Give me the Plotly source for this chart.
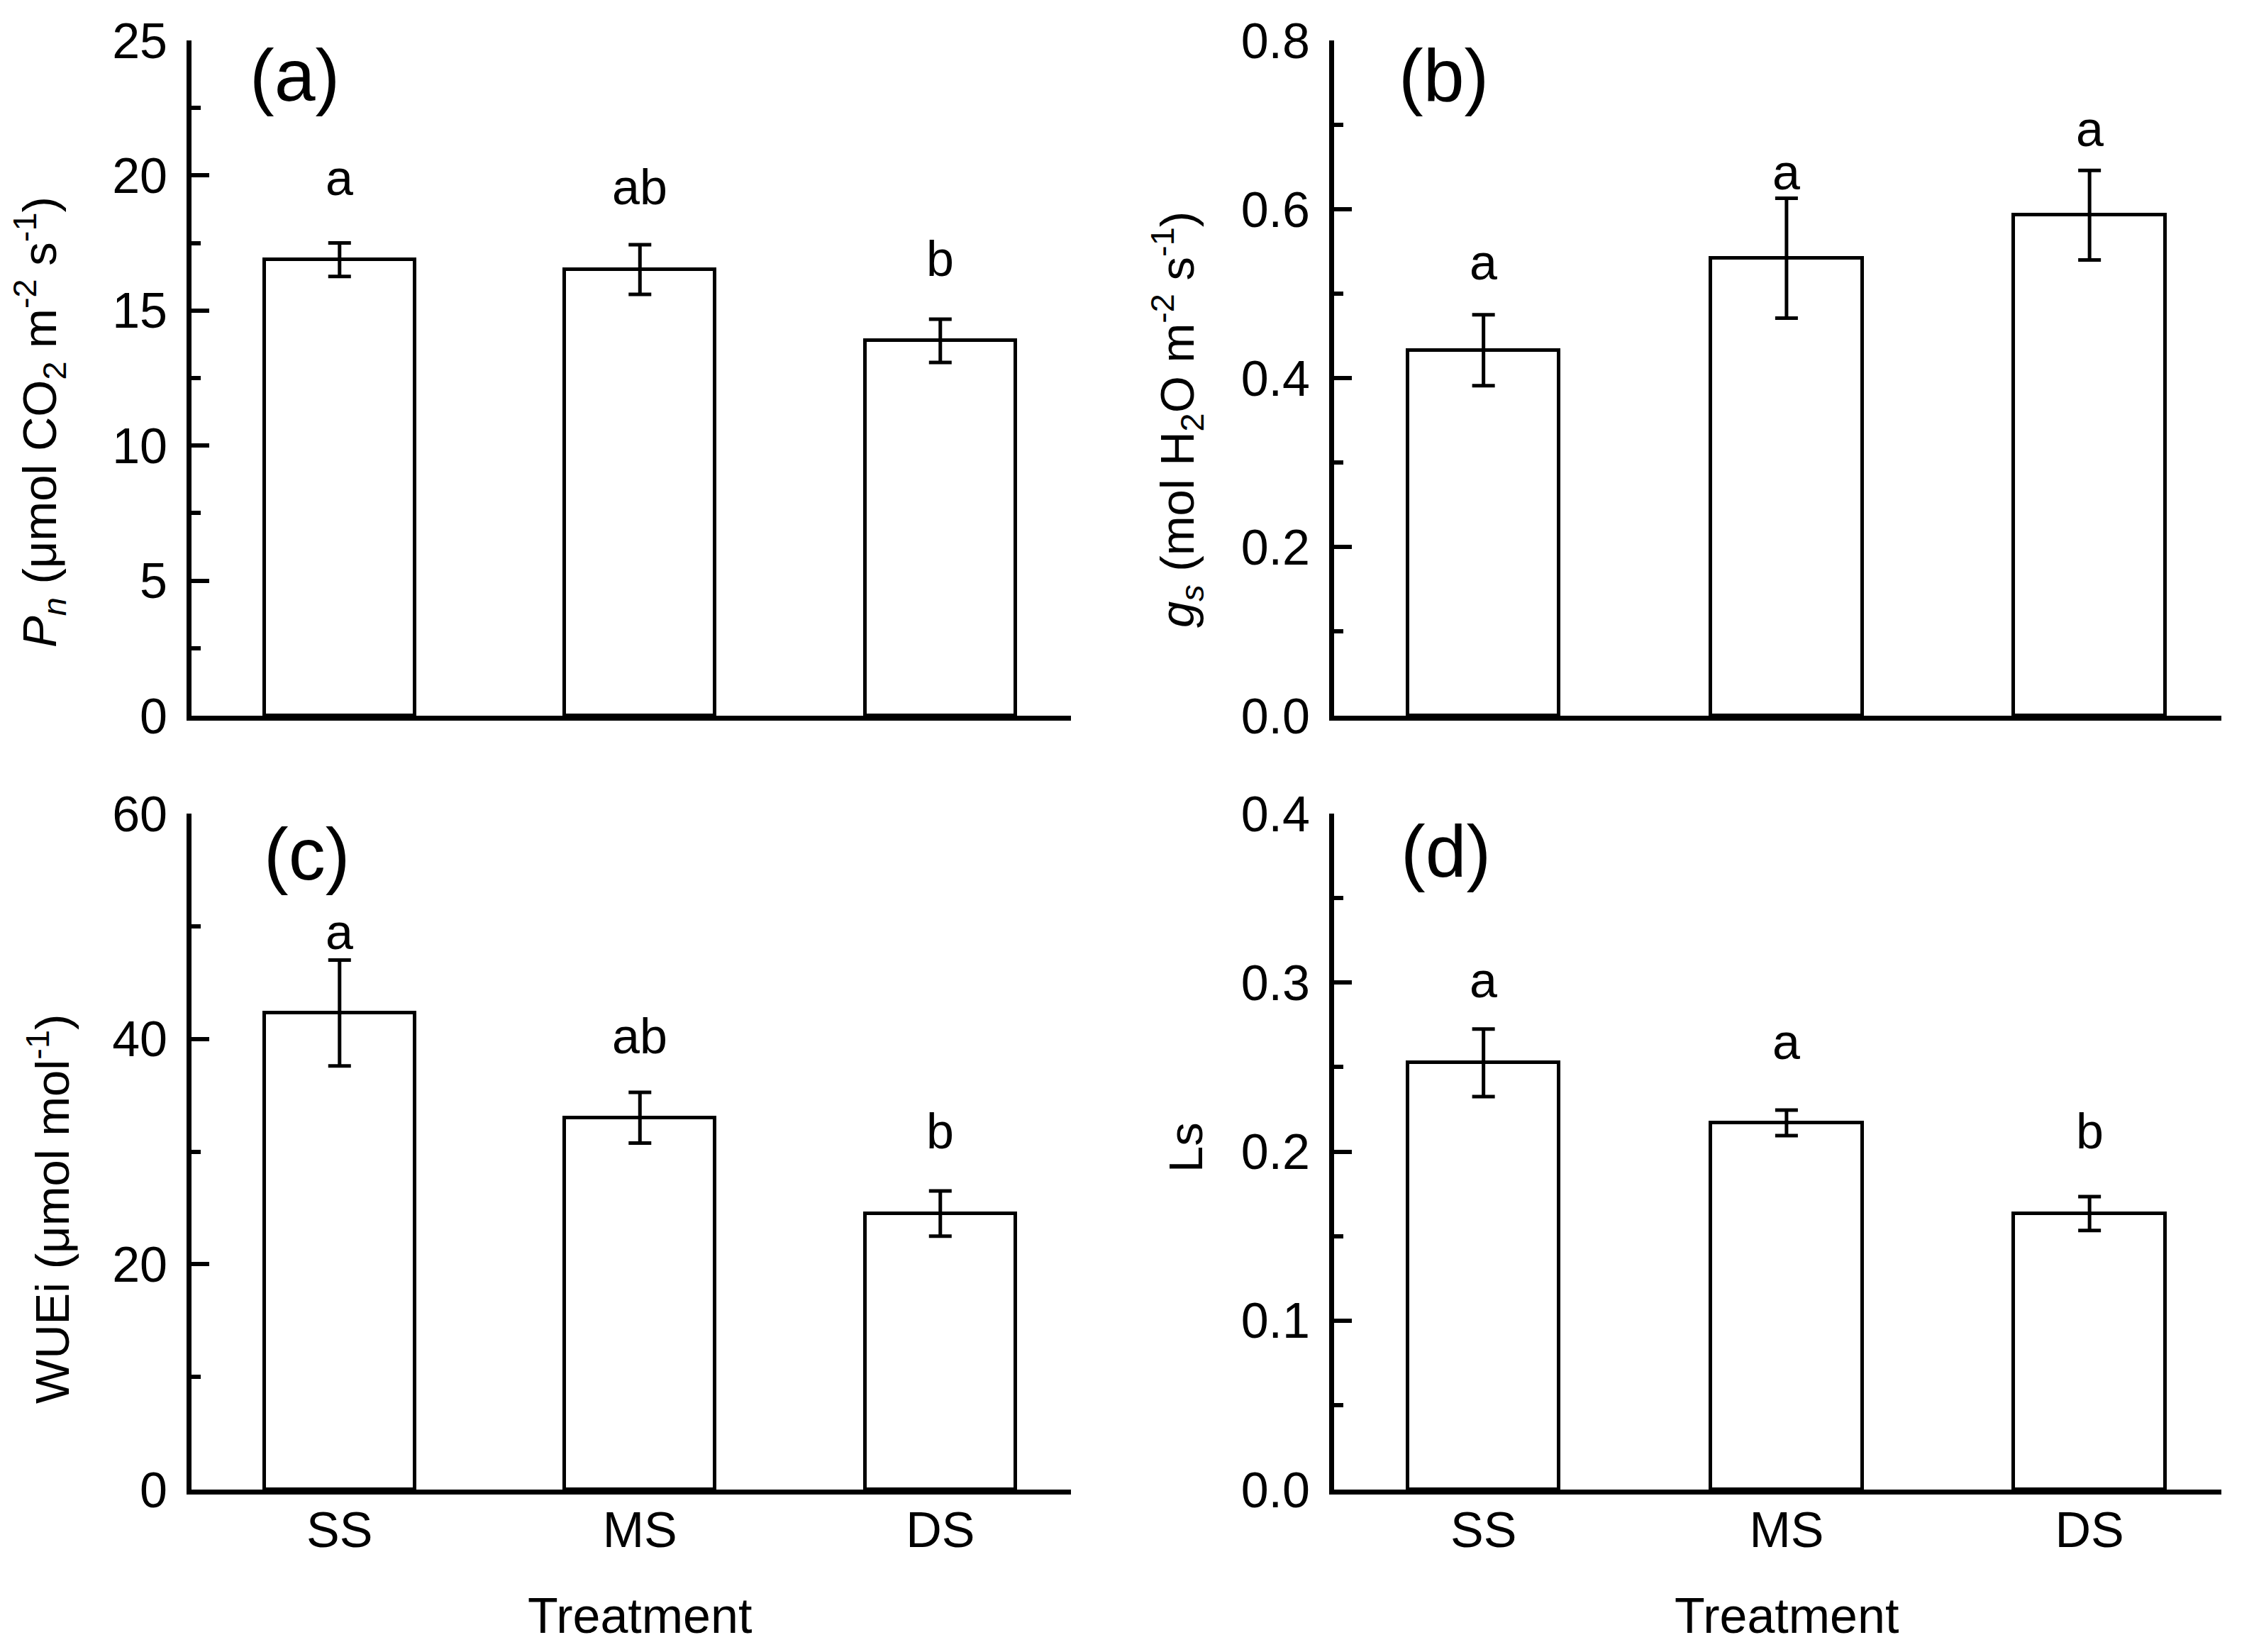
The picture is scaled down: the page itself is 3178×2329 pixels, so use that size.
import plotly.graph_objects as go

categories = ["SS", "MS", "DS"]

pn_mean = [16.88, 16.52, 13.88]
pn_err = [0.62, 0.92, 0.80]
pn_letters = ["a", "ab", "b"]
pn_letter_y = [19.7, 19.35, 16.7]

gs_mean = [0.433, 0.542, 0.593]
gs_err = [0.042, 0.071, 0.053]
gs_letters = ["a", "a", "a"]
gs_letter_y = [0.530, 0.637, 0.688]

wue_mean = [42.3, 33.0, 24.5]
wue_err = [4.7, 2.25, 2.0]
wue_letters = ["a", "ab", "b"]
wue_letter_y = [49.0, 39.7, 31.3]

ls_mean = [0.2525, 0.217, 0.1633]
ls_err = [0.020, 0.0076, 0.010]
ls_letters = ["a", "a", "b"]
ls_letter_y = [0.298, 0.2617, 0.2087]

panel_labels = ["(a)", "(b)", "(c)", "(d)"]
y_titles = [
    "<i>P</i><sub><i>n</i></sub> (μmol CO<sub>2</sub> m<sup>-2</sup> s<sup>-1</sup>)",
    "<i>g</i><sub><i>s</i></sub> (mol H<sub>2</sub>O m<sup>-2</sup> s<sup>-1</sup>)",
    "WUEi (μmol mol<sup>-1</sup>)",
    "Ls",
]
x_title = "Treatment"

W, H = 3178, 2329
OFF = 8  # page body margin
FONT = "Liberation Sans"
FS = 70


def px(sx):
    return (sx - OFF) / W


def py(sy):
    return 1 - (sy - OFF) / H


xdom = [[px(270), px(1510)], [px(1881), px(3132)]]
ydom = [[py(1009), py(57)], [py(2100), py(1147)]]

panels = [
    dict(mean=pn_mean, err=pn_err, letters=pn_letters, ly=pn_letter_y,
         rng=[0, 25], dtick=5, minor=2.5, fmt="d", col=0, row=0),
    dict(mean=gs_mean, err=gs_err, letters=gs_letters, ly=gs_letter_y,
         rng=[0, 0.8], dtick=0.2, minor=0.1, fmt=".1f", col=1, row=0),
    dict(mean=wue_mean, err=wue_err, letters=wue_letters, ly=wue_letter_y,
         rng=[0, 60], dtick=20, minor=10, fmt="d", col=0, row=1),
    dict(mean=ls_mean, err=ls_err, letters=ls_letters, ly=ls_letter_y,
         rng=[0, 0.4], dtick=0.1, minor=0.05, fmt=".1f", col=1, row=1),
]

fig = go.Figure()
xidx = list(range(len(categories)))
annotations = []

title_pos = [(56, 595), (1660, 592), (69, 1705), (1671, 1618)]
label_pos = [(416, 106), (2035, 106), (432, 1204), (2038, 1200)]

for i, p in enumerate(panels):
    n = "" if i == 0 else str(i + 1)
    xa, ya = "x" + n, "y" + n
    fig.add_trace(go.Bar(
        x=xidx, y=p["mean"], width=0.5, xaxis=xa, yaxis=ya,
        marker=dict(color="white", line=dict(color="black", width=5)),
        error_y=dict(type="data", array=p["err"], visible=True,
                     color="black", thickness=5, width=16),
        showlegend=False, hoverinfo="skip",
    ))
    for xi, lt, lyv in zip(xidx, p["letters"], p["ly"]):
        annotations.append(dict(
            text=lt, x=xi, y=lyv, xref=xa, yref=ya, showarrow=False,
            xanchor="center", yanchor="middle", yshift=8,
            font=dict(family=FONT, size=FS, color="black"),
        ))
    bottom = p["row"] == 1
    fig.layout["xaxis" + n] = dict(
        domain=xdom[p["col"]], anchor=ya, range=[-0.493, 2.435],
        tickmode="array", tickvals=xidx, ticktext=categories,
        showticklabels=bottom, ticks="", showline=True, linewidth=7,
        linecolor="black", showgrid=False, zeroline=False, automargin=False,
        tickfont=dict(family=FONT, size=FS, color="black"),
        ticklabelstandoff=-10,
    )
    fig.layout["yaxis" + n] = dict(
        domain=ydom[p["row"]], anchor=xa, range=p["rng"],
        dtick=p["dtick"], tick0=0, tickformat=p["fmt"],
        ticks="inside", ticklen=25, tickwidth=6, tickcolor="black",
        minor=dict(dtick=p["minor"], tick0=0, ticks="inside", ticklen=13,
                   tickwidth=6, tickcolor="black", showgrid=False),
        showline=True, linewidth=7, linecolor="black", automargin=False,
        showgrid=False, zeroline=False,
        tickfont=dict(family=FONT, size=FS, color="black"),
        ticklabelstandoff=13,
    )
    tx, ty = title_pos[i]
    annotations.append(dict(
        text=y_titles[i], x=px(tx), y=py(ty), xref="paper", yref="paper",
        textangle=-90, showarrow=False, xanchor="center", yanchor="middle",
        font=dict(family=FONT, size=67, color="black"),
    ))
    lx, lyy = label_pos[i]
    annotations.append(dict(
        text=panel_labels[i], x=px(lx), y=py(lyy), xref="paper", yref="paper",
        showarrow=False, xanchor="center", yanchor="middle",
        font=dict(family=FONT, size=104, color="black"),
    ))
    if bottom:
        annotations.append(dict(
            text=x_title, x=1, xref=xa, y=py(2278), yref="paper",
            showarrow=False, xanchor="center", yanchor="middle",
            font=dict(family=FONT, size=FS, color="black"),
        ))

fig.update_layout(
    template="none",
    width=W, height=H, margin=dict(l=0, r=0, t=0, b=0, pad=0, autoexpand=False),
    paper_bgcolor="white", plot_bgcolor="white",
    annotations=annotations, bargap=0,
    font=dict(family=FONT, size=FS, color="black"),
)

fig.write_html("out.html")
